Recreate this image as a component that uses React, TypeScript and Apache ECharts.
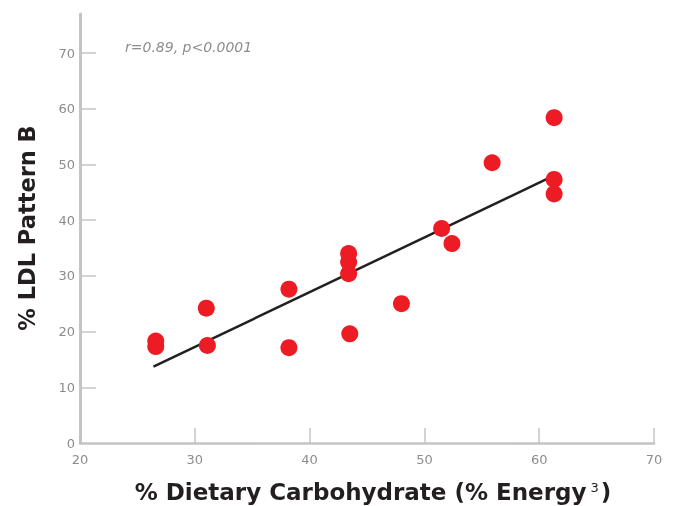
import React, { useEffect, useRef } from "react";
import * as echarts from "echarts";

const carbEnergy = [26.6, 26.6, 31.0, 31.1, 38.2, 38.2, 43.4, 43.4, 43.4, 43.5, 48.0, 51.5, 52.4, 55.9, 61.3, 61.3, 61.3];
const ldlPatternB = [18.3, 17.3, 24.2, 17.5, 27.6, 17.1, 34.0, 32.5, 30.4, 19.6, 25.0, 38.5, 35.8, 50.3, 58.4, 47.3, 44.7];
const fitX = [26.4, 61.0];
const fitY = [13.7, 47.7];
const xTicks = [20, 30, 40, 50, 60, 70];
const yTicks = [0, 10, 20, 30, 40, 50, 60, 70];
const statText = "r=0.89, p<0.0001";
const xTitle = "% Dietary Carbohydrate (% Energy";
const yTitle = "% LDL Pattern B";

export default function App() {
  const ref = useRef<HTMLDivElement>(null);
  useEffect(() => {
    if (!ref.current) return;
    const chart = echarts.init(ref.current, null, { renderer: "svg" });
    const gray = "#c4c4c8";
    const labelGray = "#8c8c8c";
    chart.setOption({
      animation: false,
      grid: { left: 80, right: 19, top: 14, bottom: 63 },
      xAxis: {
        type: "value",
        min: 20,
        max: 70,
        interval: 10,
        splitLine: { show: false },
        axisLine: { show: true, lineStyle: { color: gray, width: 2.5 } },
        axisTick: { show: true, inside: true, length: 15, customValues: xTicks.slice(1), lineStyle: { color: gray, width: 1.5 } },
        axisLabel: { color: labelGray, fontSize: 13, fontFamily: "DejaVu Sans", margin: 10, customValues: xTicks },
      },
      yAxis: {
        type: "value",
        min: 0,
        max: 77,
        splitLine: { show: false },
        axisLine: { show: true, lineStyle: { color: gray, width: 3 } },
        axisTick: { show: true, inside: true, length: 16, customValues: yTicks.slice(1), lineStyle: { color: gray, width: 1.5 } },
        axisLabel: { color: labelGray, fontSize: 13, fontFamily: "DejaVu Sans", margin: 5, customValues: yTicks },
      },
      series: [
        {
          type: "line",
          data: fitX.map((x, i) => [x, fitY[i]]),
          symbol: "none",
          lineStyle: { color: "#231f20", width: 2.5 },
          z: 2,
        },
        {
          type: "scatter",
          data: carbEnergy.map((x, i) => [x, ldlPatternB[i]]),
          symbolSize: 17,
          itemStyle: { color: "#ed1c24", opacity: 1 },
          z: 3,
        },
      ],
      graphic: [
        {
          type: "text",
          left: 125,
          top: 40,
          style: { text: statText, fill: labelGray, font: "italic 14px 'DejaVu Sans'" },
        },
        {
          type: "text",
          x: 373,
          y: 492,
          style: {
            text: "{a|" + xTitle + "}{s|3}{a|)}",
            align: "center",
            verticalAlign: "middle",
            rich: {
              a: { fontSize: 23, fontWeight: "bold", fontFamily: "DejaVu Sans", fill: "#231f20" },
              s: { fontSize: 13, fontFamily: "DejaVu Sans", fill: "#231f20", verticalAlign: "top", padding: [0, 2, 10, 4] },
            },
          },
        },
        {
          type: "text",
          x: 27,
          y: 228,
          rotation: Math.PI / 2,
          style: {
            text: yTitle,
            align: "center",
            verticalAlign: "middle",
            fontSize: 22.5,
            fontWeight: "bold",
            fontFamily: "DejaVu Sans",
            fill: "#231f20",
          },
        },
      ],
    });
    return () => chart.dispose();
  }, []);
  return <div ref={ref} style={{ position: "fixed", left: 0, top: 0, width: 673, height: 506 }} />;
}
